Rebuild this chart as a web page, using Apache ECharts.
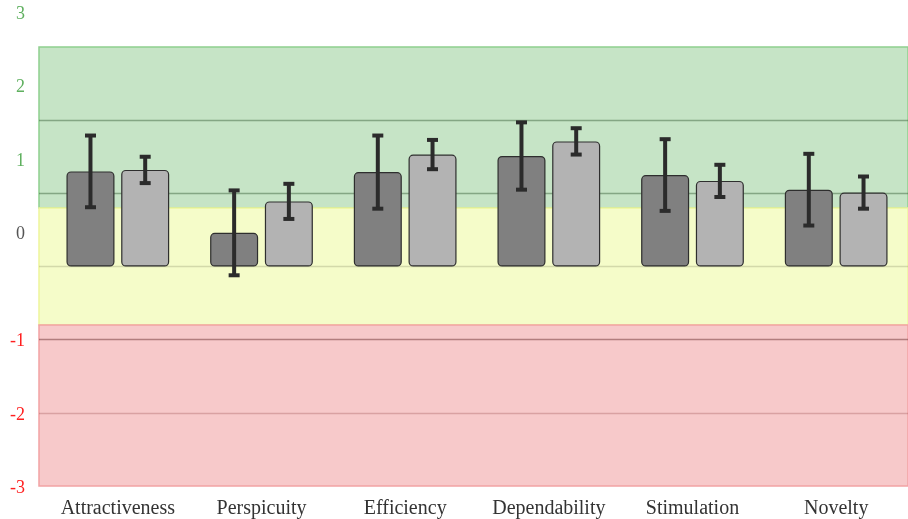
<!DOCTYPE html>
<html>
<head>
<meta charset="utf-8">
<script src="https://cdn.jsdelivr.net/npm/echarts@6/dist/echarts.min.js"></script>
<style>html,body{margin:0;padding:0;background:#fff;}#c{width:908px;height:519px;}</style>
</head>
<body>
<div id="c"></div>
<script>
const categories = ['Attractiveness', 'Perspicuity', 'Efficiency', 'Dependability', 'Stimulation', 'Novelty'];
const meanA = [1.30, 0.46, 1.29, 1.51, 1.25, 1.05];
const ciA   = [0.49, 0.58, 0.50, 0.46, 0.49, 0.49];
const meanB = [1.32, 0.89, 1.53, 1.71, 1.17, 1.01];
const ciB   = [0.18, 0.24, 0.20, 0.18, 0.22, 0.22];
const yMin = -3, yMax = 3, yStep = 1;
const bandFrom = [0.8, -0.8, -3];
const bandTo   = [3, 0.8, -0.8];

const bandFill   = ['#c6e4c6', '#f5fcc9', '#f7c9ca'];
const bandStroke = ['#8fcf8f', '#eef59c', '#f2a2a4'];
const FONT = '"Liberation Serif", "DejaVu Serif", serif';
const BAR_W = 48, GAP = '14%';

const chart = echarts.init(document.getElementById('c'), null, {renderer: 'canvas'});

const bandData = bandFrom.map((f, i) => [f, bandTo[i], i]);
const errData = [];
meanA.forEach((m, i) => errData.push([i, m, ciA[i], 0]));
meanB.forEach((m, i) => errData.push([i, m, ciB[i], 1]));

chart.setOption({
  animation: false,
  grid: [
    {left: 39, right: 0, top: 47, bottom: 33},
    {left: 46, right: -3, top: 47, bottom: 33}
  ],
  xAxis: [
    {gridIndex: 0, type: 'value', min: 0, max: 1, show: false},
    {gridIndex: 1, type: 'category', data: categories,
     axisLine: {show: false}, axisTick: {show: false},
     axisLabel: {interval: 0, fontFamily: FONT, fontSize: 20, color: '#333', margin: 13}}
  ],
  yAxis: [
    {gridIndex: 0, type: 'value', min: yMin, max: yMax, interval: yStep, z: 1,
     axisLine: {show: false}, axisTick: {show: false},
     splitLine: {show: true, showMinLine: false, showMaxLine: false,
       lineStyle: {width: 1.3, color: ['rgba(150,70,70,0.3)', 'rgba(110,50,50,0.5)',
         'rgba(110,110,80,0.25)', 'rgba(50,90,50,0.45)', 'rgba(50,90,50,0.45)']}},
     axisLabel: {
       margin: 14,
       formatter: v => v > 0 ? '{pos|' + v + '}' : (v === 0 ? '{zero|' + v + '}' : '{neg|' + v + '}'),
       rich: {
         pos: {fontFamily: FONT, fontSize: 18, color: '#5fb05f', padding: [0, 0, 65, 0]},
         zero: {fontFamily: FONT, fontSize: 18, color: '#555', padding: [0, 0, 65, 0]},
         neg: {fontFamily: FONT, fontSize: 18, color: '#ff1f1f', padding: [4, 0, 0, 0]}
       }
     }},
    {gridIndex: 1, type: 'value', min: yMin, max: yMax, interval: yStep, show: false}
  ],
  series: [
    {
      type: 'custom', xAxisIndex: 0, yAxisIndex: 0, z: -1, silent: true,
      data: bandData,
      renderItem: (params, api) => {
        const i = api.value(2);
        const p1 = api.coord([0, api.value(1)]);
        const p2 = api.coord([1, api.value(0)]);
        return {type: 'rect', shape: {x: p1[0], y: p1[1], width: p2[0] - p1[0], height: p2[1] - p1[1]},
          style: {fill: bandFill[i], stroke: bandStroke[i], lineWidth: 1.5}};
      }
    },
    {
      name: 'A', type: 'bar', xAxisIndex: 1, yAxisIndex: 1, data: meanA,
      barWidth: BAR_W, barGap: GAP,
      itemStyle: {color: '#808080', borderColor: '#2e2e2e', borderWidth: 1.2, borderRadius: 4}
    },
    {
      name: 'B', type: 'bar', xAxisIndex: 1, yAxisIndex: 1, data: meanB,
      barWidth: BAR_W, barGap: GAP,
      itemStyle: {color: '#b3b3b3', borderColor: '#2e2e2e', borderWidth: 1.2, borderRadius: 4}
    },
    {
      type: 'custom', xAxisIndex: 1, yAxisIndex: 1, z: 5, silent: true,
      data: errData,
      renderItem: (params, api) => {
        const idx = api.value(0), m = api.value(1), ci = api.value(2), s = api.value(3);
        const gapPx = BAR_W * parseFloat(GAP) / 100;
        const off = (BAR_W + gapPx) / 2 * (s === 0 ? -1 : 1);
        const top = api.coord([idx, m + ci]);
        const bot = api.coord([idx, m - ci]);
        const x = top[0] + off;
        const col = '#2b2b2b';
        return {type: 'group', children: [
          {type: 'rect', shape: {x: x - 2, y: top[1], width: 4, height: bot[1] - top[1]}, style: {fill: col}},
          {type: 'rect', shape: {x: x - 5.5, y: top[1] - 2, width: 11, height: 4}, style: {fill: col}},
          {type: 'rect', shape: {x: x - 5.5, y: bot[1] - 2, width: 11, height: 4}, style: {fill: col}}
        ]};
      }
    }
  ]
});
</script>
</body>
</html>
